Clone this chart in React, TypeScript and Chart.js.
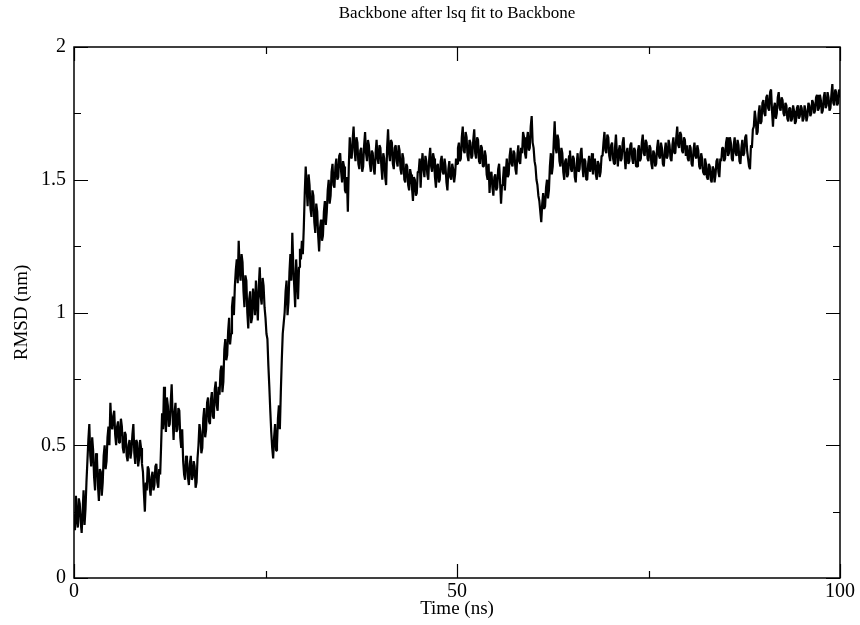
import React, { useEffect, useRef } from "react";
import { Chart, registerables } from "chart.js";

Chart.register(...registerables);

const TITLE = "Backbone after lsq fit to Backbone";
const X_TITLE = "Time (ns)";
const Y_TITLE = "RMSD (nm)";
const X_MIN = 0;
const X_MAX = 100;
const Y_MIN = 0;
const Y_MAX = 2;
const X_MAJOR = 50;
const X_MINOR = 25;
const Y_MAJOR = 0.5;
const Y_MINOR = 0.25;
const TIME_STEP = 0.125; // ns between samples

const RMSD: number[] = [
  0.24,0.18,0.31,0.22,0.19,0.30,0.28,0.21,0.17,0.25,0.33,0.20,0.26,0.36,0.44,0.52,0.58,0.46,0.42,0.53,0.48,0.38,0.33,0.47,0.45,0.35,0.29,0.41,0.40,0.31,0.36,0.46,0.50,0.41,0.44,0.53,0.57,0.50,0.66,0.58,
  0.56,0.61,0.63,0.54,0.50,0.57,0.59,0.51,0.53,0.60,0.57,0.49,0.47,0.55,0.54,0.46,0.44,0.50,0.52,0.45,0.48,0.54,0.58,0.47,0.43,0.52,0.51,0.42,0.45,0.52,0.49,0.43,0.40,0.32,0.25,0.36,0.33,0.42,0.41,0.34,
  0.31,0.38,0.40,0.33,0.35,0.42,0.43,0.36,0.34,0.41,0.39,0.50,0.62,0.56,0.72,0.60,0.55,0.68,0.65,0.57,0.58,0.66,0.73,0.61,0.52,0.62,0.66,0.55,0.56,0.64,0.63,0.53,0.49,0.56,0.44,0.39,0.37,0.46,0.45,0.38,
  0.35,0.43,0.46,0.37,0.38,0.44,0.42,0.34,0.36,0.45,0.50,0.58,0.55,0.47,0.49,0.60,0.64,0.53,0.56,0.66,0.68,0.59,0.58,0.67,0.70,0.61,0.60,0.71,0.74,0.65,0.63,0.72,0.69,0.78,0.80,0.70,0.74,0.86,0.90,0.82,
  0.84,0.93,0.98,0.88,0.92,1.02,1.06,0.99,1.10,1.16,1.20,1.11,1.27,1.16,1.12,1.22,1.19,1.08,1.02,1.14,1.12,1.00,0.94,1.05,1.08,0.96,0.98,1.09,1.05,0.99,1.12,1.04,0.97,1.10,1.17,1.06,1.03,1.13,1.10,1.02,
  0.98,0.92,0.90,0.80,0.72,0.63,0.55,0.49,0.45,0.53,0.58,0.48,0.50,0.60,0.65,0.56,0.70,0.82,0.92,0.96,1.00,1.08,1.12,0.99,1.04,1.15,1.22,1.12,1.30,1.18,1.10,1.02,1.20,1.13,1.05,1.17,1.24,1.20,1.27,1.22,
  1.32,1.45,1.55,1.47,1.40,1.52,1.48,1.39,1.36,1.46,1.44,1.34,1.30,1.41,1.38,1.29,1.23,1.32,1.35,1.27,1.29,1.38,1.42,1.33,1.38,1.46,1.50,1.41,1.44,1.53,1.56,1.48,1.47,1.55,1.58,1.50,1.51,1.59,1.60,1.53,
  1.49,1.57,1.55,1.46,1.45,1.51,1.38,1.55,1.66,1.59,1.58,1.65,1.70,1.61,1.57,1.66,1.64,1.56,1.54,1.61,1.62,1.53,1.55,1.63,1.68,1.60,1.57,1.65,1.63,1.56,1.53,1.61,1.60,1.54,1.52,1.60,1.65,1.58,1.56,1.63,
  1.62,1.55,1.50,1.60,1.58,1.51,1.48,1.62,1.69,1.60,1.57,1.65,1.64,1.56,1.54,1.62,1.63,1.57,1.55,1.63,1.61,1.54,1.52,1.60,1.58,1.50,1.49,1.56,1.55,1.48,1.46,1.54,1.52,1.47,1.42,1.51,1.50,1.44,1.45,1.53,
  1.53,1.58,1.47,1.55,1.60,1.54,1.51,1.59,1.57,1.52,1.50,1.58,1.62,1.55,1.53,1.60,1.58,1.51,1.47,1.55,1.56,1.49,1.50,1.57,1.59,1.53,1.52,1.58,1.55,1.49,1.46,1.54,1.57,1.51,1.50,1.56,1.54,1.49,1.52,1.58,
  1.56,1.62,1.64,1.57,1.58,1.66,1.70,1.61,1.60,1.68,1.66,1.59,1.57,1.65,1.64,1.58,1.59,1.65,1.69,1.60,1.58,1.66,1.65,1.57,1.56,1.63,1.62,1.55,1.55,1.61,1.59,1.52,1.50,1.56,1.45,1.52,1.53,1.47,1.44,1.51,
  1.52,1.46,1.47,1.54,1.56,1.49,1.41,1.48,1.50,1.55,1.46,1.53,1.58,1.51,1.52,1.59,1.62,1.56,1.55,1.61,1.60,1.54,1.52,1.59,1.63,1.57,1.56,1.62,1.60,1.68,1.66,1.60,1.58,1.65,1.68,1.61,1.62,1.70,1.74,1.64,
  1.62,1.57,1.55,1.50,1.48,1.44,1.42,1.38,1.34,1.41,1.45,1.39,1.40,1.47,1.50,1.43,1.46,1.55,1.60,1.52,1.55,1.64,1.72,1.62,1.60,1.67,1.65,1.57,1.55,1.62,1.60,1.53,1.50,1.57,1.58,1.51,1.52,1.59,1.61,1.54,
  1.53,1.59,1.58,1.51,1.49,1.56,1.60,1.53,1.54,1.60,1.62,1.55,1.51,1.58,1.57,1.50,1.50,1.56,1.59,1.53,1.55,1.60,1.52,1.57,1.58,1.52,1.50,1.57,1.56,1.51,1.53,1.59,1.59,1.64,1.68,1.61,1.60,1.67,1.66,1.59,
  1.57,1.63,1.64,1.58,1.56,1.62,1.67,1.60,1.55,1.61,1.63,1.57,1.58,1.64,1.66,1.59,1.54,1.60,1.62,1.56,1.57,1.63,1.64,1.58,1.56,1.62,1.61,1.55,1.55,1.61,1.63,1.57,1.58,1.64,1.67,1.60,1.59,1.65,1.64,1.58,
  1.57,1.63,1.62,1.56,1.54,1.61,1.60,1.55,1.56,1.62,1.65,1.59,1.58,1.64,1.62,1.56,1.55,1.61,1.64,1.58,1.59,1.65,1.63,1.58,1.57,1.63,1.66,1.60,1.60,1.66,1.70,1.63,1.62,1.68,1.67,1.61,1.60,1.66,1.65,1.59,
  1.63,1.58,1.57,1.63,1.62,1.56,1.55,1.61,1.64,1.59,1.58,1.63,1.61,1.55,1.54,1.60,1.58,1.53,1.52,1.58,1.56,1.51,1.50,1.56,1.55,1.50,1.49,1.55,1.54,1.49,1.52,1.57,1.58,1.53,1.51,1.58,1.57,1.62,1.62,1.57,
  1.58,1.64,1.66,1.59,1.60,1.66,1.64,1.58,1.57,1.63,1.66,1.60,1.59,1.65,1.63,1.57,1.56,1.62,1.65,1.59,1.60,1.66,1.67,1.61,1.58,1.55,1.54,1.63,1.62,1.69,1.70,1.76,1.73,1.67,1.68,1.75,1.78,1.71,1.72,1.79,
  1.80,1.75,1.74,1.81,1.82,1.77,1.76,1.83,1.84,1.76,1.70,1.77,1.79,1.73,1.75,1.81,1.83,1.77,1.76,1.81,1.80,1.75,1.74,1.79,1.78,1.73,1.72,1.77,1.77,1.72,1.73,1.78,1.76,1.71,1.72,1.77,1.78,1.73,1.74,1.78,
  1.77,1.72,1.73,1.78,1.76,1.72,1.74,1.79,1.78,1.74,1.75,1.80,1.79,1.75,1.76,1.81,1.82,1.76,1.77,1.82,1.80,1.75,1.76,1.81,1.83,1.77,1.78,1.83,1.81,1.76,1.77,1.82,1.86,1.79,1.78,1.84,1.83,1.78,1.79,1.84,
  1.81,
];

const FONT_FAMILY = "'Liberation Serif', 'DejaVu Serif', serif";

const frameTicksPlugin = {
  id: "frameTicks",
  afterDatasetsDraw(chart: any) {
    const { ctx, chartArea, scales } = chart;
    const { left, right, top, bottom } = chartArea;
    const xs = scales.x;
    const ys = scales.y;
    ctx.save();
    ctx.strokeStyle = "#000";
    ctx.lineWidth = 1.5;
    ctx.strokeRect(left, top, right - left, bottom - top);
    ctx.lineWidth = 1.2;
    ctx.beginPath();
    for (let v = X_MIN; v <= X_MAX + 1e-9; v += X_MINOR) {
      const isMajor = Math.abs(v / X_MAJOR - Math.round(v / X_MAJOR)) < 1e-6;
      const len = isMajor ? 14 : 7;
      const px = Math.round(xs.getPixelForValue(v)) + 0.5;
      ctx.moveTo(px, bottom);
      ctx.lineTo(px, bottom - len);
      ctx.moveTo(px, top);
      ctx.lineTo(px, top + len);
    }
    for (let v = Y_MIN; v <= Y_MAX + 1e-9; v += Y_MINOR) {
      const isMajor = Math.abs(v / Y_MAJOR - Math.round(v / Y_MAJOR)) < 1e-6;
      const len = isMajor ? 14 : 7;
      const py = Math.round(ys.getPixelForValue(v)) + 0.5;
      ctx.moveTo(left, py);
      ctx.lineTo(left + len, py);
      ctx.moveTo(right, py);
      ctx.lineTo(right - len, py);
    }
    ctx.stroke();
    ctx.restore();
  },
};

export default function App() {
  const canvasRef = useRef<HTMLCanvasElement | null>(null);

  useEffect(() => {
    const canvas = canvasRef.current;
    if (!canvas) return;
    const points = RMSD.map((v, i) => ({ x: i * TIME_STEP, y: v }));
    const chart = new Chart(canvas, {
      type: "line",
      data: {
        datasets: [
          {
            label: "RMSD",
            data: points,
            borderColor: "#000",
            borderWidth: 2.2,
            borderJoinStyle: "bevel",
            pointRadius: 0,
            tension: 0,
            fill: false,
          },
        ],
      },
      options: {
        responsive: false,
        animation: false,
        events: [],
        layout: { padding: { left: 0, right: 20, top: 0, bottom: 0 } },
        plugins: {
          legend: { display: false },
          tooltip: { enabled: false },
          title: {
            display: true,
            text: TITLE,
            fullSize: false,
            color: "#000",
            font: { family: FONT_FAMILY, size: 17, weight: "normal" },
            padding: { top: 3, bottom: 23.6 },
          },
        },
        scales: {
          x: {
            type: "linear",
            min: X_MIN,
            max: X_MAX,
            border: { display: false },
            grid: { drawOnChartArea: false, drawTicks: false },
            ticks: {
              stepSize: X_MAJOR,
              color: "#000",
              padding: 2,
              maxRotation: 0,
              font: { family: FONT_FAMILY, size: 20 },
            },
            title: {
              display: true,
              text: X_TITLE,
              color: "#000",
              font: { family: FONT_FAMILY, size: 19 },
              padding: { top: 0, bottom: 5 },
            },
            afterFit(scale: any) {
              scale.height = 47;
            },
          },
          y: {
            type: "linear",
            min: Y_MIN,
            max: Y_MAX,
            border: { display: false },
            grid: { drawOnChartArea: false, drawTicks: false },
            ticks: {
              stepSize: Y_MAJOR,
              color: "#000",
              padding: 8,
              font: { family: FONT_FAMILY, size: 20 },
              callback: (value: any) => String(Number(value)),
            },
            title: {
              display: true,
              text: Y_TITLE,
              color: "#000",
              font: { family: FONT_FAMILY, size: 19 },
              padding: { top: 10.6, bottom: 0 },
            },
            afterFit(scale: any) {
              scale.width = 74;
            },
          },
        },
      },
      plugins: [frameTicksPlugin],
    });
    return () => chart.destroy();
  }, []);

  return (
    <div style={{ position: "fixed", left: 0, top: 0, width: 860, height: 625, background: "#fff" }}>
      <canvas ref={canvasRef} width={860} height={625} style={{ display: "block" }} />
    </div>
  );
}
